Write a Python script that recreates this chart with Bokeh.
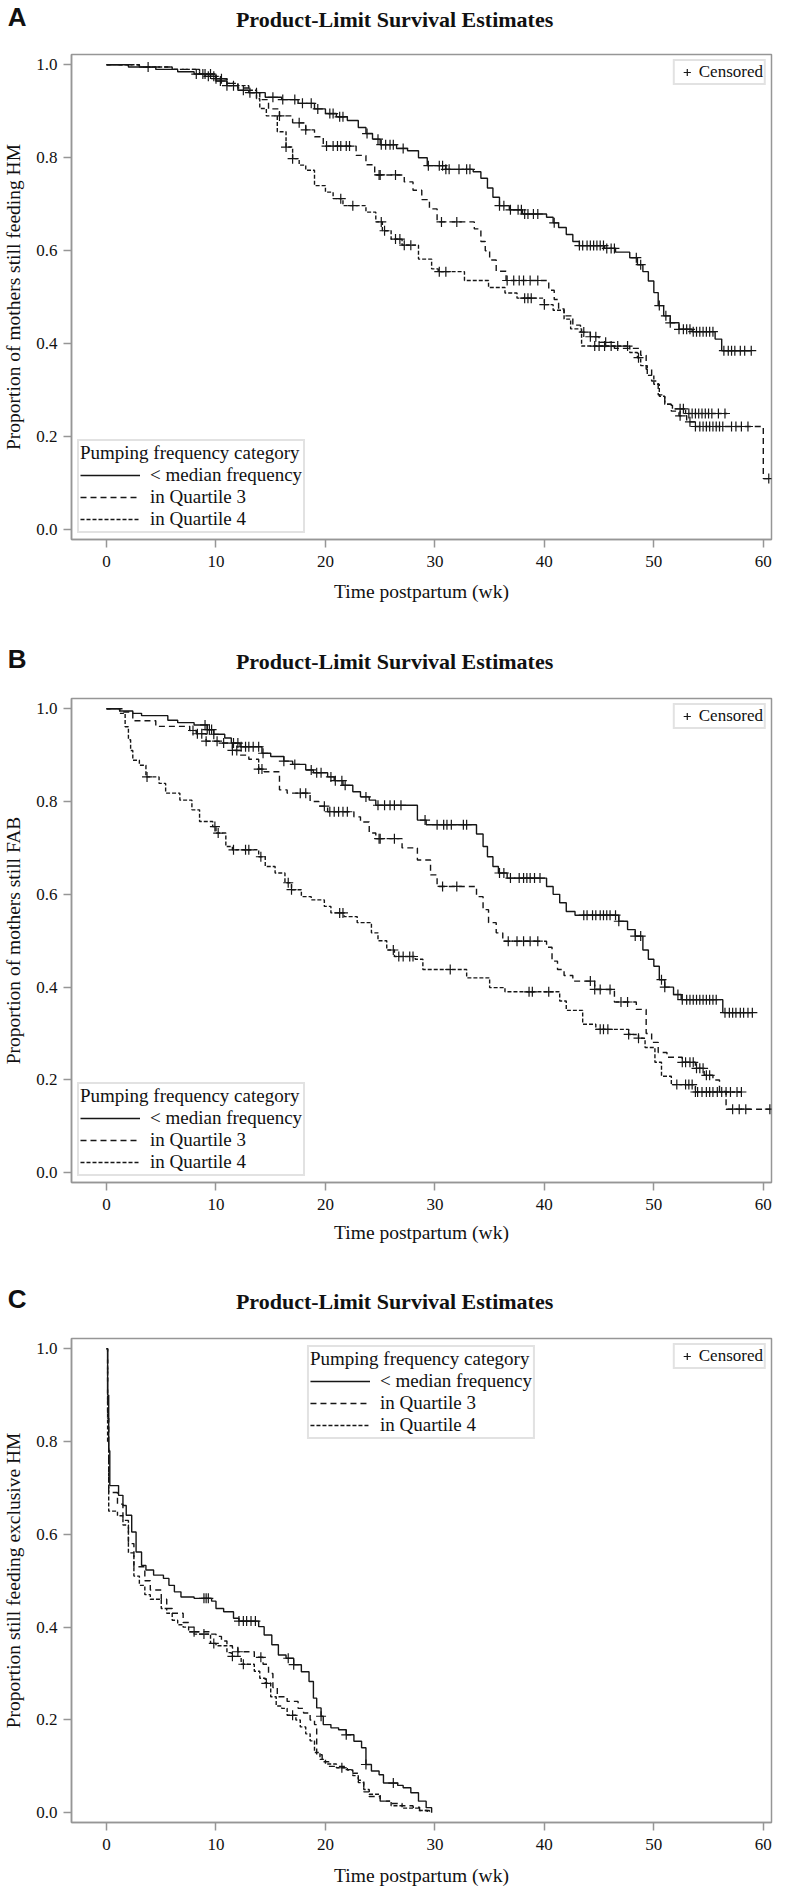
import numpy as np
from bokeh.plotting import figure
from bokeh.layouts import column
from bokeh.models import (Range1d, Legend, LegendItem, FixedTicker,
                          PrintfTickFormatter)
from bokeh.core.properties import value
from bokeh.embed import file_html
from bokeh.resources import INLINE

# ---------------- data ----------------
SERIES = ["< median frequency", "in Quartile 3", "in Quartile 4"]
X_TICKS = [0, 10, 20, 30, 40, 50, 60]
Y_TICKS = [0.0, 0.2, 0.4, 0.6, 0.8, 1.0]
TITLE = "Product-Limit Survival Estimates"
X_LABEL = "Time postpartum (wk)"
LETTERS = ["A", "B", "C"]
Y_LABELS = ["Proportion of mothers still feeding HM",
            "Proportion of mothers still FAB",
            "Proportion still feeding exclusive HM"]

# Panel A
A_MED_T = [0, 2.0, 4.5, 6.5, 8.0, 9.0, 10.0, 11.0, 12.0, 13.0, 14.5, 16.0, 17.5, 19.0, 20.0, 21.0, 22.0, 23.0, 23.7, 24.3, 25.0, 26.5, 27.5, 28.5, 29.3, 31.0, 33.5, 34.2, 34.8, 35.3, 35.9, 36.8, 38.0, 40.2, 40.8, 41.3, 42.0, 42.6, 43.2, 45.5, 46.5, 47.8, 48.5, 49.0, 49.5, 50.0, 50.4, 50.9, 51.5, 52.3, 53.5, 55.6, 56.2]
A_MED_S = [1.0, 0.995, 0.99, 0.985, 0.98, 0.975, 0.965, 0.955, 0.945, 0.94, 0.93, 0.925, 0.917, 0.905, 0.895, 0.888, 0.88, 0.865, 0.852, 0.84, 0.828, 0.82, 0.815, 0.80, 0.783, 0.775, 0.77, 0.756, 0.735, 0.715, 0.697, 0.688, 0.679, 0.672, 0.66, 0.65, 0.635, 0.62, 0.611, 0.605, 0.597, 0.585, 0.57, 0.555, 0.535, 0.51, 0.482, 0.46, 0.445, 0.431, 0.426, 0.41, 0.385]
A_MED_END = 58.9
A_MED_C = [3.8, 8.2, 8.8, 9.3, 9.8, 10.4, 11.0, 11.6, 12.5, 13.1, 13.7, 15.2, 16.1, 17.2, 17.9, 18.7, 19.3, 20.4, 20.7, 21.3, 21.6, 23.8, 24.8, 25.1, 25.5, 25.9, 26.2, 27.1, 29.4, 30.4, 30.7, 31.0, 31.3, 32.2, 32.9, 33.2, 35.9, 36.3, 36.9, 37.6, 37.9, 38.2, 38.5, 39.0, 39.4, 40.9, 43.2, 43.5, 43.9, 44.2, 44.5, 44.8, 45.1, 45.4, 45.7, 46.1, 46.4, 48.4, 48.8, 50.5, 51.1, 51.5, 52.3, 52.7, 53.0, 53.3, 53.6, 53.9, 54.2, 54.5, 54.8, 55.1, 55.4, 56.4, 56.8, 57.1, 57.4, 57.9, 58.3, 58.9]

A_Q3_T = [0, 3.0, 6.0, 8.5, 10.0, 11.0, 12.0, 13.0, 14.0, 14.8, 15.8, 17.0, 18.2, 19.0, 19.8, 22.8, 23.7, 24.5, 27.2, 28.0, 28.8, 29.5, 30.2, 33.6, 34.2, 34.6, 35.0, 35.6, 36.5, 40.4, 40.9, 41.3, 41.8, 42.6, 43.3, 44.2, 45.0, 46.4, 48.8, 49.3, 49.8, 50.4, 51.0, 51.6, 52.3, 53.0, 53.8, 60.0]
A_Q3_S = [1.0, 0.995, 0.99, 0.98, 0.97, 0.96, 0.95, 0.94, 0.925, 0.905, 0.89, 0.875, 0.86, 0.845, 0.825, 0.805, 0.785, 0.763, 0.748, 0.73, 0.71, 0.69, 0.662, 0.647, 0.62, 0.6, 0.58, 0.556, 0.536, 0.515, 0.495, 0.475, 0.46, 0.44, 0.425, 0.415, 0.403, 0.39, 0.375, 0.345, 0.32, 0.29, 0.27, 0.255, 0.245, 0.232, 0.222, 0.11]
A_Q3_END = 60.5
A_Q3_C = [9.5, 10.5, 15.8, 17.6, 18.2, 20.1, 20.7, 21.1, 21.4, 21.9, 22.2, 24.9, 25.0, 26.4, 30.6, 32.0, 36.6, 37.2, 37.7, 38.1, 38.7, 39.4, 43.6, 44.2, 44.7, 45.6, 52.4, 53.3, 53.8, 54.2, 54.5, 54.8, 55.1, 55.4, 55.7, 56.0, 56.3, 57.1, 57.5, 58.0, 58.6, 60.5]

A_Q4_T = [0, 3.0, 6.0, 8.5, 10.0, 11.0, 12.0, 13.0, 13.7, 14.0, 14.6, 15.6, 16.4, 17.0, 17.6, 18.2, 19.0, 20.0, 20.7, 21.6, 23.7, 24.6, 25.2, 26.0, 27.0, 28.5, 29.7, 30.3, 32.7, 34.9, 36.4, 37.5, 40.0, 40.8, 41.8, 42.4, 43.4, 47.8, 48.5, 48.8, 49.4, 50.0, 50.5, 51.0, 51.7, 52.9]
A_Q4_S = [1.0, 0.995, 0.99, 0.98, 0.97, 0.96, 0.955, 0.945, 0.927, 0.906, 0.89, 0.856, 0.823, 0.798, 0.784, 0.773, 0.74, 0.726, 0.712, 0.697, 0.683, 0.662, 0.643, 0.625, 0.612, 0.582, 0.561, 0.555, 0.536, 0.521, 0.509, 0.498, 0.484, 0.472, 0.453, 0.432, 0.395, 0.381, 0.37, 0.353, 0.332, 0.313, 0.287, 0.27, 0.26, 0.25]
A_Q4_END = 56.7
A_Q4_C = [9.0, 10.0, 16.4, 17.0, 21.4, 22.5, 25.1, 25.4, 26.4, 26.8, 27.2, 27.8, 30.4, 31.0, 38.2, 38.5, 38.8, 40.0, 44.6, 45.0, 45.5, 46.1, 46.7, 47.6, 48.6, 52.4, 52.7, 53.2, 53.5, 53.8, 54.1, 54.4, 54.7, 55.0, 55.3, 55.9, 56.5]

# Panel B
B_MED_T = [0, 1.2, 2.4, 3.2, 5.6, 6.5, 8.0, 9.2, 9.8, 10.8, 11.4, 12.2, 14.2, 15.0, 16.2, 17.0, 18.2, 18.9, 20.2, 20.8, 21.6, 22.5, 23.2, 24.0, 24.6, 28.4, 29.2, 33.8, 34.4, 34.8, 35.3, 35.8, 36.6, 40.2, 40.8, 41.4, 42.0, 42.8, 46.8, 47.6, 48.3, 49.0, 49.5, 50.0, 50.5, 51.0, 51.8, 52.5, 56.3]
B_MED_S = [1.0, 0.995, 0.99, 0.985, 0.975, 0.97, 0.965, 0.955, 0.945, 0.937, 0.926, 0.918, 0.904, 0.897, 0.887, 0.88, 0.868, 0.862, 0.853, 0.845, 0.835, 0.821, 0.81, 0.803, 0.792, 0.76, 0.75, 0.73, 0.703, 0.681, 0.66, 0.646, 0.635, 0.617, 0.6, 0.582, 0.563, 0.555, 0.542, 0.524, 0.51, 0.48, 0.46, 0.445, 0.416, 0.40, 0.384, 0.373, 0.345]
B_MED_END = 59.0
B_MED_C = [9.0, 9.2, 9.4, 9.6, 9.8, 11.6, 12.0, 12.3, 12.7, 13.0, 13.4, 13.9, 14.3, 16.2, 17.2, 18.7, 19.2, 19.6, 20.5, 20.9, 21.5, 21.8, 23.7, 24.8, 25.4, 25.9, 26.3, 26.9, 29.1, 30.2, 30.8, 31.1, 31.5, 32.6, 32.9, 35.9, 36.3, 36.9, 37.7, 38.1, 38.4, 38.7, 39.1, 39.6, 43.6, 43.9, 44.4, 44.7, 45.1, 45.4, 45.7, 46.0, 46.5, 46.8, 48.3, 48.8, 50.7, 51.0, 52.2, 52.6, 53.0, 53.3, 53.6, 53.9, 54.2, 54.5, 54.8, 55.1, 55.4, 55.7, 56.5, 56.9, 57.2, 57.5, 57.9, 58.2, 58.6, 59.0]

B_Q3_T = [0, 1.5, 2.4, 4.5, 7.6, 8.2, 9.1, 10.3, 11.5, 12.2, 13.0, 13.9, 14.4, 15.8, 16.5, 18.6, 19.4, 20.2, 22.6, 23.2, 24.0, 24.6, 27.0, 28.4, 29.6, 30.2, 33.8, 34.4, 34.9, 35.6, 36.2, 40.2, 40.7, 41.2, 41.8, 42.6, 44.6, 46.4, 48.4, 49.3, 49.8, 50.4, 51.2, 52.6, 53.8, 54.6, 55.4, 56.0, 56.6]
B_Q3_S = [1.0, 0.993, 0.974, 0.962, 0.953, 0.946, 0.93, 0.926, 0.91, 0.9, 0.891, 0.87, 0.864, 0.825, 0.818, 0.80, 0.79, 0.778, 0.767, 0.756, 0.732, 0.72, 0.70, 0.674, 0.642, 0.617, 0.595, 0.567, 0.539, 0.517, 0.499, 0.486, 0.456, 0.438, 0.425, 0.413, 0.395, 0.368, 0.352, 0.30, 0.281, 0.259, 0.249, 0.238, 0.225, 0.21, 0.2, 0.175, 0.137]
B_Q3_END = 60.6
B_Q3_C = [7.9, 8.3, 8.7, 9.1, 10.1, 10.7, 11.5, 11.9, 13.9, 14.2, 17.7, 18.2, 19.9, 20.4, 20.8, 21.2, 21.6, 22.0, 24.9, 25.0, 26.3, 30.7, 32.0, 36.7, 37.5, 38.1, 38.7, 39.4, 44.2, 44.6, 45.1, 46.0, 47.0, 47.6, 52.6, 52.9, 53.3, 53.6, 53.9, 54.2, 54.5, 54.8, 55.1, 57.2, 57.8, 58.4, 60.6]

B_Q4_T = [0, 1.2, 1.7, 2.0, 2.2, 2.4, 3.0, 3.6, 4.8, 5.4, 6.7, 7.8, 8.5, 9.7, 10.0, 10.9, 11.5, 13.9, 14.5, 15.4, 16.3, 16.9, 17.8, 18.7, 19.9, 20.5, 21.7, 22.9, 24.2, 24.8, 25.6, 26.3, 28.2, 28.9, 32.9, 35.0, 36.4, 41.4, 42.0, 43.5, 44.7, 47.7, 48.6, 49.2, 50.1, 50.7, 51.6, 53.8]
B_Q4_S = [1.0, 0.99, 0.961, 0.933, 0.91, 0.889, 0.878, 0.853, 0.839, 0.818, 0.803, 0.782, 0.757, 0.746, 0.732, 0.703, 0.696, 0.681, 0.66, 0.646, 0.625, 0.61, 0.595, 0.588, 0.574, 0.56, 0.552, 0.539, 0.517, 0.5, 0.48, 0.466, 0.46, 0.438, 0.42, 0.399, 0.39, 0.37, 0.35, 0.32, 0.309, 0.298, 0.29, 0.27, 0.238, 0.208, 0.19, 0.174]
B_Q4_END = 58.0
B_Q4_C = [3.7, 9.9, 10.2, 11.6, 12.7, 13.0, 14.1, 16.6, 16.9, 21.3, 21.6, 26.2, 26.7, 27.1, 27.7, 28.0, 31.4, 38.6, 38.9, 40.4, 45.1, 45.4, 45.8, 47.7, 48.6, 52.1, 52.9, 53.2, 53.5, 53.8, 54.0, 54.4, 54.8, 55.1, 55.4, 55.8, 56.2, 56.6, 57.0, 57.6, 58.0]

# Panel C
C_MED_T = [0, 0.1, 0.2, 0.3, 1.1, 1.5, 1.8, 2.3, 2.7, 3.2, 3.6, 4.3, 5.2, 5.7, 6.2, 6.8, 8.0, 9.6, 10.0, 10.7, 11.6, 12.1, 13.9, 14.4, 15.1, 15.7, 16.4, 17.1, 17.8, 18.5, 18.9, 19.2, 19.6, 19.8, 20.5, 21.2, 21.9, 22.6, 23.3, 23.7, 24.2, 24.9, 25.3, 26.6, 27.1, 27.8, 28.5, 29.2, 29.7]
C_MED_S = [1.0, 0.9, 0.78, 0.705, 0.684, 0.662, 0.641, 0.605, 0.562, 0.533, 0.523, 0.512, 0.505, 0.49, 0.476, 0.465, 0.462, 0.456, 0.44, 0.433, 0.419, 0.413, 0.401, 0.383, 0.362, 0.34, 0.333, 0.319, 0.304, 0.283, 0.247, 0.226, 0.208, 0.19, 0.183, 0.179, 0.168, 0.154, 0.14, 0.104, 0.09, 0.082, 0.064, 0.059, 0.054, 0.043, 0.025, 0.011, 0.0]
C_MED_END = 29.7
C_MED_C = [8.9, 9.1, 9.3, 12.1, 12.5, 12.8, 13.2, 13.6, 16.6, 17.1, 19.6, 21.9, 23.7, 26.2]

C_Q3_T = [0, 0.1, 0.2, 1.0, 1.5, 2.0, 2.5, 3.5, 4.0, 5.0, 5.5, 6.0, 7.0, 7.5, 8.0, 9.5, 10.0, 10.5, 11.0, 11.5, 12.0, 13.5, 14.3, 14.8, 15.2, 15.6, 16.5, 17.5, 18.0, 18.6, 19.0, 19.2, 19.7, 20.3, 21.8, 22.5, 23.0, 23.5, 24.0, 25.0, 26.0, 27.0, 28.0, 28.6, 29.5]
C_Q3_S = [1.0, 0.85, 0.69, 0.665, 0.63, 0.58, 0.53, 0.50, 0.48, 0.46, 0.44, 0.43, 0.41, 0.40, 0.39, 0.385, 0.38, 0.37, 0.36, 0.355, 0.347, 0.335, 0.32, 0.30, 0.27, 0.25, 0.24, 0.225, 0.215, 0.2, 0.19, 0.125, 0.11, 0.10, 0.093, 0.085, 0.07, 0.045, 0.035, 0.025, 0.02, 0.015, 0.012, 0.005, 0.0]
C_Q3_END = 29.5
C_Q3_C = [8.0, 12.0, 14.1]

C_Q4_T = [0, 0.1, 0.2, 1.0, 1.5, 2.0, 2.5, 3.0, 3.5, 4.0, 5.0, 5.5, 6.0, 6.5, 7.0, 7.5, 8.0, 9.5, 10.0, 11.0, 11.4, 12.3, 13.5, 14.0, 14.5, 15.0, 15.5, 16.0, 16.5, 17.3, 17.7, 18.2, 18.6, 19.0, 19.5, 20.0, 21.0, 22.0, 22.5, 23.0, 23.5, 24.0, 25.0, 26.0, 27.0, 28.5, 29.3]
C_Q4_S = [1.0, 0.8, 0.65, 0.64, 0.62, 0.56, 0.51, 0.49, 0.47, 0.46, 0.44, 0.43, 0.415, 0.405, 0.40, 0.39, 0.385, 0.365, 0.36, 0.345, 0.337, 0.32, 0.305, 0.29, 0.279, 0.25, 0.23, 0.225, 0.21, 0.2, 0.185, 0.17, 0.155, 0.13, 0.115, 0.105, 0.097, 0.092, 0.08, 0.065, 0.05, 0.04, 0.025, 0.015, 0.01, 0.005, 0.0]
C_Q4_END = 29.3
C_Q4_C = [8.9, 9.8, 11.5, 12.5, 14.6, 17.0, 21.5]

# ---------------- styling ----------------
SERIF = "Liberation Serif"
SANS = "Liberation Sans"
GREY = "#969696"
LEG_BORDER = "#c6c6c6"
INK = "#161616"
TXT = "#111111"
DASHES = ["solid", "6 4", "4 2"]
W = 773
BL, BR = 69, 2          # left / right borders shared by all stacked figures

PANELS = [
    dict(curves=[(A_MED_T, A_MED_S, A_MED_END, A_MED_C),
                 (A_Q3_T, A_Q3_S, A_Q3_END, A_Q3_C),
                 (A_Q4_T, A_Q4_S, A_Q4_END, A_Q4_C)],
         head=39, title_top=19, letter_top=16,
         height=602, top=15, bottom=102, legend_loc="bottom_left", legend_margin=6, xstd=11),
    dict(curves=[(B_MED_T, B_MED_S, B_MED_END, B_MED_C),
                 (B_Q3_T, B_Q3_S, B_Q3_END, B_Q3_C),
                 (B_Q4_T, B_Q4_S, B_Q4_END, B_Q4_C)],
         head=42, title_top=20, letter_top=17,
         height=600, top=15, bottom=101, legend_loc="bottom_left", legend_margin=6, xstd=9),
    dict(curves=[(C_MED_T, C_MED_S, C_MED_END, C_MED_C),
                 (C_Q3_T, C_Q3_S, C_Q3_END, C_Q3_C),
                 (C_Q4_T, C_Q4_S, C_Q4_END, C_Q4_C)],
         head=40, title_top=18, letter_top=15,
         height=570, top=15, bottom=71, legend_loc="top_center", legend_margin=7, xstd=12),
]


def censor_y(t, s, c):
    idx = np.searchsorted(np.asarray(t, float), np.asarray(c, float), side="right") - 1
    return list(np.asarray(s, float)[idx])


def make_header(i, cfg):
    h = cfg["head"]
    tick = h - cfg["letter_top"]
    # data units == figure pixels (frame spans BL .. W-BR after column alignment)
    hd = figure(width=W, height=h, output_backend="svg", toolbar_location=None, title=None,
                x_range=Range1d(BL, W - BR), y_range=Range1d(0, h),
                min_border_left=BL, min_border_right=BR, min_border_top=0, min_border_bottom=0,
                x_axis_location=None, y_axis_location="left")
    hd.outline_line_color = None
    hd.grid.visible = False
    hd.background_fill_color = "white"
    hd.border_fill_color = "white"
    # panel letter, drawn as the single label of the header's left axis
    ax = hd.yaxis[0]
    ax.ticker = FixedTicker(ticks=[tick], minor_ticks=[])
    ax.major_label_overrides = {tick: LETTERS[i]}
    ax.axis_line_color = None
    ax.major_tick_line_color = None
    ax.minor_tick_line_color = None
    ax.major_tick_out = 0
    ax.major_tick_in = 0
    ax.major_label_standoff = 45
    ax.major_label_text_font = SANS
    ax.major_label_text_font_size = "26px"
    ax.major_label_text_font_style = "bold"
    ax.major_label_text_color = TXT
    hd.text(x=[393], y=[h - cfg["title_top"]], text=[TITLE], text_align="center",
            text_baseline="middle", text_font=value(SERIF), text_font_size="22px",
            text_font_style="bold", text_color=TXT)
    return hd


def make_panel(i, cfg):
    p = figure(width=W, height=cfg["height"], output_backend="svg", toolbar_location=None,
               title=None, x_range=Range1d(-3.2, 60.75), y_range=Range1d(-0.021, 1.022),
               min_border_left=BL, min_border_right=BR,
               min_border_top=cfg["top"], min_border_bottom=cfg["bottom"])
    p.outline_line_color = GREY
    p.outline_line_width = 1.5
    p.grid.visible = False
    p.background_fill_color = "white"
    p.border_fill_color = "white"

    p.xaxis.ticker = FixedTicker(ticks=X_TICKS, minor_ticks=[])
    p.yaxis.ticker = FixedTicker(ticks=Y_TICKS, minor_ticks=[])
    p.yaxis.formatter = PrintfTickFormatter(format="%.1f")
    for ax in (p.xaxis, p.yaxis):
        ax.axis_line_color = GREY
        ax.axis_line_width = 1.5
        ax.major_tick_line_color = GREY
        ax.major_tick_line_width = 1.5
        ax.major_tick_out = 8
        ax.major_tick_in = 0
        ax.minor_tick_line_color = None
        ax.major_label_text_font = SERIF
        ax.major_label_text_font_size = "17px"
        ax.major_label_text_color = TXT
        ax.axis_label_text_font = SERIF
        ax.axis_label_text_font_size = "19.5px"
        ax.axis_label_text_font_style = "normal"
        ax.axis_label_text_color = TXT
    p.xaxis.major_label_standoff = 8
    p.yaxis.major_label_standoff = 6
    p.xaxis.axis_label = X_LABEL
    p.yaxis.axis_label = Y_LABELS[i]
    p.xaxis.axis_label_standoff = cfg["xstd"]
    p.yaxis.axis_label_standoff = 9

    lines, marks = [], []
    for (t, s, end, c), dash in zip(cfg["curves"], DASHES):
        xs = list(t) + [end]
        ys = list(s) + [s[-1]]
        r = p.step(xs, ys, mode="after", line_color=INK, line_width=1.4, line_dash=dash)
        m = p.scatter(c, censor_y(t, s, c), marker="cross", size=10,
                      line_color=INK, line_width=1.2)
        lines.append(r)
        marks.append(m)

    leg = Legend(items=[LegendItem(label=n, renderers=[r]) for n, r in zip(SERIES, lines)],
                 title="Pumping frequency category", location=cfg["legend_loc"])
    leg.title_text_font = SERIF
    leg.title_text_font_size = "19px"
    leg.title_text_font_style = "normal"
    leg.title_text_color = TXT
    leg.title_text_line_height = 1.0
    leg.title_standoff = -3
    leg.label_text_font = SERIF
    leg.label_text_font_size = "19px"
    leg.label_text_color = TXT
    leg.label_text_line_height = 1.0
    leg.glyph_width = 60
    leg.glyph_height = 18
    leg.label_height = 18
    leg.label_standoff = 10
    leg.spacing = -2
    leg.padding = 1
    leg.margin = cfg["legend_margin"]
    leg.border_line_color = LEG_BORDER
    leg.border_line_width = 2
    leg.background_fill_color = "white"
    leg.background_fill_alpha = 1.0
    p.add_layout(leg)

    cleg = Legend(items=[LegendItem(label="Censored", renderers=[marks[0]])],
                  location="top_right")
    cleg.label_text_font = SERIF
    cleg.label_text_font_size = "17px"
    cleg.label_text_color = TXT
    cleg.label_text_line_height = 1.0
    cleg.glyph_width = 22
    cleg.glyph_height = 18
    cleg.label_height = 18
    cleg.label_standoff = 1
    cleg.padding = 1
    cleg.spacing = 0
    cleg.margin = 5
    cleg.border_line_color = LEG_BORDER
    cleg.border_line_width = 2
    cleg.background_fill_color = "white"
    p.add_layout(cleg)
    return p


parts = []
for i, cfg in enumerate(PANELS):
    parts.append(make_header(i, cfg))
    parts.append(make_panel(i, cfg))
layout = column(*parts, spacing=0)

open("out.html", "w").write(file_html(layout, INLINE))
